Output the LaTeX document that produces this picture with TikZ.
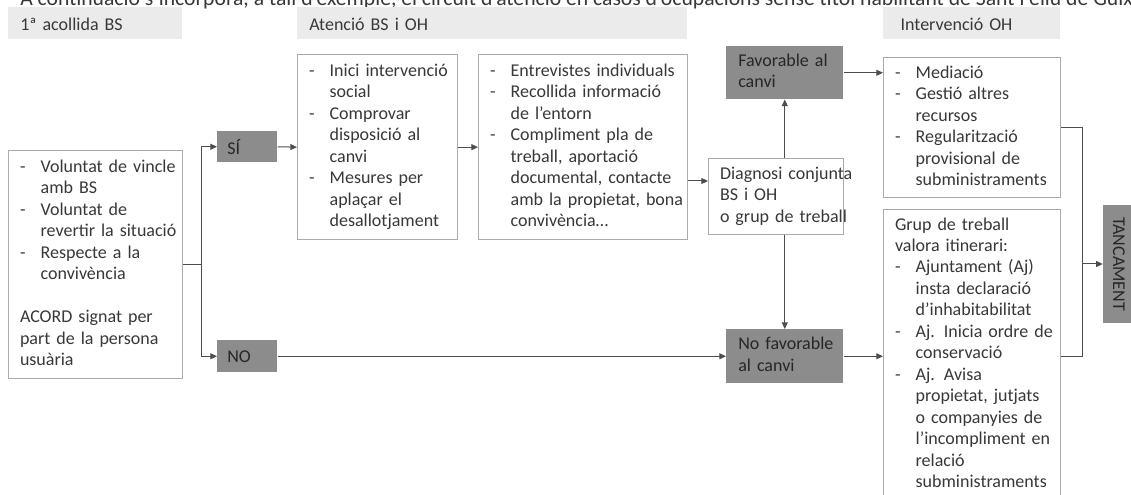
\documentclass[tikz,border=0pt]{standalone}
\usepackage{fontspec}
\setmainfont{Carlito}
\usetikzlibrary{arrows.meta, positioning}

\definecolor{hdrgrey}{HTML}{EBEBEB}
\definecolor{darkbox}{HTML}{8C8C8C}
\definecolor{edgegrey}{HTML}{ABABAB}
\definecolor{wiregrey}{HTML}{4D4D4D}
\definecolor{inkgrey}{HTML}{383838}

\newcommand{\lns}[1]{\begin{tabular}{@{}l@{}}#1\end{tabular}}
\newcommand{\lst}[1]{\begin{tabular}{@{}p{15.5pt}@{}l@{}}#1\end{tabular}}
\newcommand{\full}[1]{\multicolumn{2}{@{}l@{}}{#1}}

\tikzset{
  hdr/.style={fill=hdrgrey, anchor=north west, align=left, inner xsep=9pt, inner ysep=0pt, minimum height=24pt, text height=12pt, text depth=1pt, text=inkgrey},
  wbox/.style={draw=edgegrey, line width=1pt, fill=white, anchor=north west, align=left, inner xsep=8.5pt, inner ysep=4pt, text=inkgrey},
  gbox/.style={fill=darkbox, anchor=north west, align=left, inner xsep=8pt, inner ysep=0pt, text=black!85},
  wire/.style={draw=wiregrey, line width=0.75pt},
  arr/.style={wire, -{Triangle[length=5pt,width=4.5pt]}}
}

\begin{document}
\begin{tikzpicture}[x=0.75pt, y=-0.75pt, font=\fontsize{13.5pt}{16.1pt}\selectfont]
				\useasboundingbox (0,0) rectangle (1131,495);
				\clip (0,0) rectangle (1131,495);
				% Intro line, cut by the page top:
				\node[anchor=base west, inner sep=0pt, text=inkgrey, font=\fontsize{16.25pt}{19pt}\selectfont] (intro) at (20,6) {A continuació s’incorpora, a tall d’exemple, el circuit d’atenció en casos d’ocupacions sense títol habilitant de Sant Feliu de Guíxols};
				% Column headers:
				\node[hdr, text width=112.5pt] (hdrA) at (8,7) {1ª acollida BS};
				\node[hdr, text width=274.5pt] (hdrB) at (297,7) {Atenció BS i OH};
				\node[hdr, inner xsep=13pt, text width=106.75pt] (hdrC) at (883,7) {Intervenció OH};
				% Boxes:
				\node[wbox, text width=113.5pt, minimum height=171pt] (acord) at (8,150) {\lst{-&Voluntat de vincle\\ &amb BS\\ -&Voluntat de\\ &revertir la situació\\ -&Respecte a la\\ &convivència\\ &\\ \full{ACORD signat per}\\ \full{part de la persona}\\ \full{usuària}}};
				\node[gbox, inner xsep=7.5pt, text width=30pt, minimum height=23.25pt] (si) at (217,131) {SÍ};
				\node[gbox, inner xsep=7.5pt, text width=30pt, minimum height=24pt] (no) at (217,340) {NO};
				\node[wbox, text width=103pt, minimum height=138.75pt] (inici) at (297,54) {\lst{-&Inici intervenció\\ &social\\ -&Comprovar\\ &disposició al\\ &canvi\\ -&Mesures per\\ &aplaçar el\\ &desallotjament}};
				\node[wbox, text width=139.75pt, minimum height=138.75pt] (entrev) at (478,54) {\lst{-&Entrevistes individuals\\ -&Recollida informació\\ &de l’entorn\\ -&Compliment pla de\\ &treball, aportació\\ &documental, contacte\\ &amb la propietat, bona\\ &convivència…}};
				\node[wbox, text width=84.25pt, minimum height=57pt] (diag) at (708,158) {\lns{Diagnosi conjunta\\ BS i OH\\ o grup de treball}};
				\node[gbox, inner xsep=9pt, text width=69.75pt, minimum height=39.75pt] (fav) at (726,46) {\lns{Favorable al\\ canvi}};
				\node[gbox, inner xsep=9pt, text width=69.75pt, minimum height=40.5pt] (nofav) at (726,329) {\lns{No favorable\\ al canvi}};
				\node[wbox, text width=115.75pt, minimum height=105pt] (med) at (883,57) {\lst{-&Mediació\\ -&Gestió altres\\ &recursos\\ -&Regularització\\ &provisional de\\ &subministraments}};
				\node[wbox, text width=115.75pt] (grup) at (883,209) {\lst{\full{Grup de treball}\\ \full{valora itinerari:}\\ -&Ajuntament (Aj)\\ &insta declaració\\ &d’inhabitabilitat\\ -&Aj. Inicia ordre de\\ &conservació\\ -&Aj. Avisa\\ &propietat, jutjats\\ &o companyies de\\ &l’incompliment en\\ &relació\\ &subministraments}};
				\node[fill=darkbox, rotate=-90, minimum width=88.5pt, minimum height=24pt, inner sep=0pt, text=black!85] (tanc) at (1119,264) {TANCAMENT};
				% Connectors:
				\draw[wire] (acord.east) -- ++(18,0) coordinate (split);
				\draw[arr] (split) |- (si.west);
				\draw[arr] (split) |- (no.west);
				\draw[arr] (si.east) -- (inici.west);
				\draw[arr] (inici.east) -- (entrev.west);
				\draw[arr] (entrev.east |- 0,181) -- (diag.west |- 0,181);
				\draw[arr] (diag.north -| fav.south) -- (fav.south);
				\draw[arr] (diag.south -| nofav.north) -- (nofav.north);
				\draw[arr] (no.east) -- (no.east -| nofav.west);
				\draw[arr] (fav.east) -- (fav.east -| med.west);
				\draw[arr] (nofav.east) -- (nofav.east -| grup.west);
				\coordinate (merge) at (1082,264);
				\draw[wire] (med.east) -| (merge);
				\draw[wire] (nofav.east -| grup.east) -| (merge);
				\draw[arr] (merge) -- (merge -| tanc.south);
\end{tikzpicture}
\end{document}
